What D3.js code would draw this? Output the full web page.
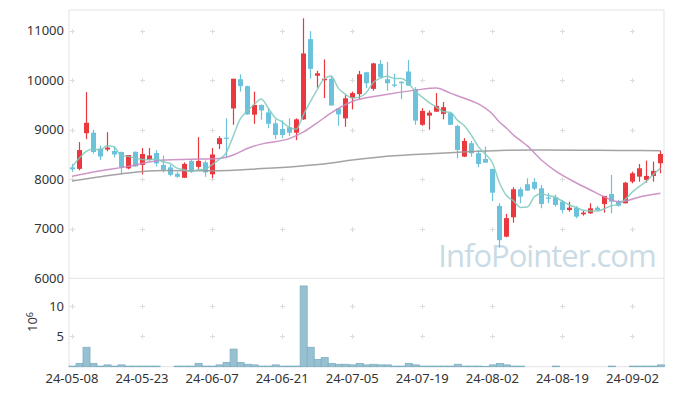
<!DOCTYPE html>
<html><head><meta charset="utf-8">
<script src="https://cdn.jsdelivr.net/npm/d3@7"></script>
<style>body{margin:0;background:#fff}svg{display:block}</style>
</head><body><svg id="c" width="673" height="396"></svg>
<script>
const dates = ["24-05-08","24-05-09","24-05-10","24-05-13","24-05-14","24-05-16","24-05-17","24-05-20","24-05-21","24-05-22",
"24-05-23","24-05-24","24-05-27","24-05-28","24-05-29","24-05-30","24-05-31","24-06-03","24-06-04","24-06-05",
"24-06-07","24-06-10","24-06-11","24-06-12","24-06-13","24-06-14","24-06-17","24-06-18","24-06-19","24-06-20",
"24-06-21","24-06-24","24-06-25","24-06-26","24-06-27","24-06-28","24-07-01","24-07-02","24-07-03","24-07-04",
"24-07-05","24-07-08","24-07-09","24-07-10","24-07-11","24-07-12","24-07-15","24-07-16","24-07-17","24-07-18",
"24-07-19","24-07-22","24-07-23","24-07-24","24-07-25","24-07-26","24-07-29","24-07-30","24-07-31","24-08-01",
"24-08-02","24-08-05","24-08-06","24-08-07","24-08-08","24-08-09","24-08-12","24-08-13","24-08-14","24-08-16",
"24-08-19","24-08-20","24-08-21","24-08-22","24-08-23","24-08-26","24-08-27","24-08-28","24-08-29","24-08-30",
"24-09-02","24-09-03","24-09-04","24-09-05","24-09-06"];
const open = [8240,8210,8930,8940,8620,8600,8570,8550,8220,8555,
8290,8390,8530,8290,8240,8110,8030,8370,8250,8340,
8100,8710,8840,9430,10020,9880,9305,9500,9350,9130,
9015,9050,8940,9210,10830,10090,10000,10030,9430,9230,
9640,9720,10160,9825,10330,10020,9912,9970,10175,9820,
9100,9285,9365,9320,9335,9077,8457,8727,8525,8410,
8208,7461,6841,7232,7798,7899,7945,7818,7630,7636,
7547,7380,7426,7293,7313,7426,7501,7703,7541,7515,
7952,8053,7986,8067,8323];
const high = [8310,8750,9760,9000,8680,8950,8660,8560,8490,8560,
8630,8630,8590,8480,8290,8150,8340,8400,8850,8380,
8630,8870,9230,10030,10120,9890,9770,9510,9420,9210,
9190,9230,9230,11250,10990,10190,10420,10090,9440,9700,
9770,10190,10170,10350,10410,10370,10130,9975,10410,9860,
9435,9390,9740,9560,9350,9100,8830,8775,8590,8660,
8210,7515,7300,7840,7840,8020,8020,7885,7720,7690,
7582,7547,7461,7366,7515,7461,7663,8087,7580,7950,
8154,8309,8376,8356,8578];
const low = [8150,8180,8810,8520,8390,8565,8440,8100,8200,8250,
8100,8380,8260,8140,8060,8030,8030,8130,8210,8050,
8020,8610,8430,9100,9770,9300,9120,9200,9030,8810,
8830,8875,8790,9200,10030,9850,9640,9490,9080,9060,
9410,9620,9840,9790,10060,9790,9860,9620,9890,9100,
9080,9000,9360,9210,9095,8424,8450,8457,8242,8330,
7560,6620,6830,7123,7515,7765,7785,7414,7515,7447,
7313,7346,7212,7265,7299,7366,7326,7313,7447,7510,
7919,7952,7931,7952,8121];
const close = [8200,8590,9140,8550,8460,8640,8500,8240,8490,8260,
8510,8480,8320,8190,8090,8050,8310,8150,8370,8140,
8500,8830,8830,10030,9880,9310,9500,9390,9120,8895,
8895,8940,9210,10540,10230,10140,10030,9490,9310,9635,
9740,10120,9940,10340,10060,9940,9900,9940,9890,9185,
9380,9345,9480,9455,9100,8592,8774,8525,8309,8335,
7729,6770,7215,7798,7649,7770,7810,7500,7620,7481,
7380,7426,7245,7326,7414,7380,7663,7547,7467,7931,
8121,8222,8067,8168,8511];
// volume in millions of shares
const volume = [0.1,0.55,3.2,0.55,0.1,0.3,0.1,0.3,0.1,0.1,
0.1,0.1,0.1,0,0,0.1,0.1,0.1,0.55,0.1,
0.1,0.3,0.7,2.9,0.7,0.4,0.3,0.1,0.1,0.3,
0.1,0.1,0.1,13.3,3.2,1.2,1.5,0.55,0.4,0.4,
0.3,0.55,0.3,0.4,0.3,0.3,0.1,0.1,0.55,0.3,
0.1,0.1,0.1,0.1,0.1,0.4,0.1,0.1,0.1,0.05,
0.3,0.55,0.3,0.1,0.1,0,0,0,0,0.1,
0,0,0,0,0,0,0,0.1,0,0,
0.1,0.1,0.1,0.1,0.3];
// short moving average (teal)
const maShort = [8250,8420,8560,8610,8588,8676,8658,8478,8466,8426,
8400,8396,8412,8352,8318,8226,8192,8158,8194,8204,
8294,8398,8534,8866,9214,9376,9510,9622,9440,9243,
9160,9048,9012,9296,9563,9812,10030,10086,9840,9721,
9641,9659,9749,9955,10040,10080,10036,10036,9946,9771,
9659,9548,9456,9369,9352,9194,9080,8889,8660,8507,
8334,7934,7672,7569,7432,7440,7648,7705,7670,7636,
7558,7481,7430,7372,7358,7358,7406,7466,7494,7598,
7746,7858,7962,8102,8218];
// mid moving average (purple), read at sample days
const maMidDays = ["24-05-08","24-05-14","24-05-21","24-05-28","24-06-03","24-06-10","24-06-12","24-06-14","24-06-18","24-06-24","24-06-26","24-06-28","24-07-02","24-07-05","24-07-11","24-07-18","24-07-23","24-07-25","24-07-29","24-07-31","24-08-02","24-08-05","24-08-06","24-08-07","24-08-08","24-08-09","24-08-13","24-08-16","24-08-21","24-08-23","24-08-27","24-08-29","24-08-30","24-09-03","24-09-06"];
const maMidValues = [8060,8170,8260,8390,8405,8420,8490,8620,8710,8820,8950,9140,9340,9570,9690,9800,9845,9740,9636,9521,9319,9157,9036,8895,8784,8673,8390,8168,7925,7784,7642,7547,7562,7642,7717];
// long moving average (gray), read at sample days
const maLongDays = ["24-05-08","24-05-14","24-05-21","24-05-28","24-06-07","24-06-18","24-06-25","24-07-02","24-07-05","24-07-11","24-07-18","24-07-25","24-07-31","24-08-06","24-08-12","24-08-21","24-08-29","24-09-06"];
const maLongValues = [7965,8050,8125,8175,8172,8215,8260,8330,8390,8450,8500,8537,8565,8585,8592,8588,8582,8578];
const xTickLabels = ["24-05-08","24-05-23","24-06-07","24-06-21","24-07-05","24-07-19","24-08-02","24-08-19","24-09-02"];
const priceTicks = [6000,7000,8000,9000,10000,11000];
const volTicks = [5,10];

const svg = d3.select("#c");
const L = 68.5, R = 664, T = 10, MID = 278.3, B = 366.7;
const FONT = "'Noto Sans', 'DejaVu Sans', sans-serif";

const x = d3.scaleBand().domain(dates).range([L, R]).paddingInner(0.3).paddingOuter(0.15);
const xv = d3.scaleBand().domain(dates).range([L, R]).padding(0);
const xc = d => x(d) + x.bandwidth() / 2;
const y = d3.scaleLinear().domain([6000, 11000]).range([MID, 30.7]);
const yv = d3.scaleLinear().domain([0, 10]).range([B, 306]);

// frame
const frame = svg.append("g").attr("stroke", "#e3e3e3").attr("fill", "none");
frame.append("rect").attr("x", 69).attr("y", T).attr("width", R - 69).attr("height", B - T);
frame.append("line").attr("x1", 69).attr("x2", R).attr("y1", MID).attr("y2", MID);

// grid crosses
const cross = svg.append("g").attr("stroke", "#dcdcdc").attr("stroke-width", 1);
const gridYs = priceTicks.filter(v => v > 6000).map(v => y(v)).concat(volTicks.map(v => yv(v)));
xTickLabels.forEach(d => {
  gridYs.forEach(gy => {
    const cx = Math.round(xc(d)) + 0.5, cy = Math.round(gy) + 0.5;
    cross.append("line").attr("x1", cx - 2.5).attr("x2", cx + 2.5).attr("y1", cy).attr("y2", cy);
    cross.append("line").attr("x1", cx).attr("x2", cx).attr("y1", cy - 2.5).attr("y2", cy + 2.5);
  });
});

// watermark
svg.append("text").attr("x", 547).attr("y", 267).attr("text-anchor", "middle")
  .attr("font-family", "'Open Sans', 'Noto Sans', sans-serif").attr("font-size", 31)
  .attr("letter-spacing", -1)
  .attr("fill", "#c9dbe5").text("InfoPointer.com");

// volume bars
svg.append("g").selectAll("rect").data(dates).join("rect")
  .attr("x", d => xv(d) + 0.5).attr("width", xv.bandwidth())
  .attr("y", (d, i) => yv(volume[i])).attr("height", (d, i) => B - yv(volume[i]))
  .attr("fill", "#97c1d1").attr("stroke", "#7eaec2").attr("stroke-width", 0.8)
  .attr("display", (d, i) => volume[i] > 0 ? null : "none");

// candles
const UP = "#e9393e", DOWN = "#6cc2da";
const cg = svg.append("g");
dates.forEach((d, i) => {
  const col = close[i] > open[i] ? UP : DOWN;
  const cx = Math.round(xc(d)) + 0.5;
  cg.append("line").attr("x1", cx).attr("x2", cx).attr("y1", y(high[i])).attr("y2", y(low[i]))
    .attr("stroke", col).attr("stroke-width", 1.2);
  const top = y(Math.max(open[i], close[i])), bot = y(Math.min(open[i], close[i]));
  cg.append("rect").attr("x", cx - 2.5).attr("width", 5)
    .attr("y", top).attr("height", Math.max(1.2, bot - top)).attr("fill", col);
});

// moving averages
const line = d3.line().curve(d3.curveMonotoneX);
svg.append("path").attr("d", line(maLongDays.map((d, i) => [xc(d), y(maLongValues[i])])))
  .attr("fill", "none").attr("stroke", "#999").attr("stroke-width", 1.5).attr("opacity", 0.9);
svg.append("path").attr("d", line(maMidDays.map((d, i) => [xc(d), y(maMidValues[i])])))
  .attr("fill", "none").attr("stroke", "#c98ac1").attr("stroke-width", 1.5).attr("opacity", 0.9);
svg.append("path").attr("d", line(dates.map((d, i) => [xc(d), y(maShort[i])])))
  .attr("fill", "none").attr("stroke", "#7fc9bd").attr("stroke-width", 1.5).attr("opacity", 0.85);

// axes labels
const tg = svg.append("g").attr("font-family", FONT).attr("font-size", 13).attr("fill", "#333");
priceTicks.forEach(v => {
  tg.append("text").attr("x", 64).attr("y", y(v)).attr("dy", "0.35em").attr("text-anchor", "end").text(v);
});
volTicks.forEach(v => {
  tg.append("text").attr("x", 64).attr("y", yv(v)).attr("dy", "0.35em").attr("text-anchor", "end").text(v);
});
xTickLabels.forEach(d => {
  tg.append("text").attr("x", xc(d)).attr("y", 383).attr("text-anchor", "middle").text(d);
});
const unit = tg.append("text").attr("transform", "translate(37,322) rotate(-90)").attr("text-anchor", "middle");
unit.append("tspan").text("10");
unit.append("tspan").attr("font-size", 9).attr("dy", "-0.5em").text("6");
</script></body></html>
